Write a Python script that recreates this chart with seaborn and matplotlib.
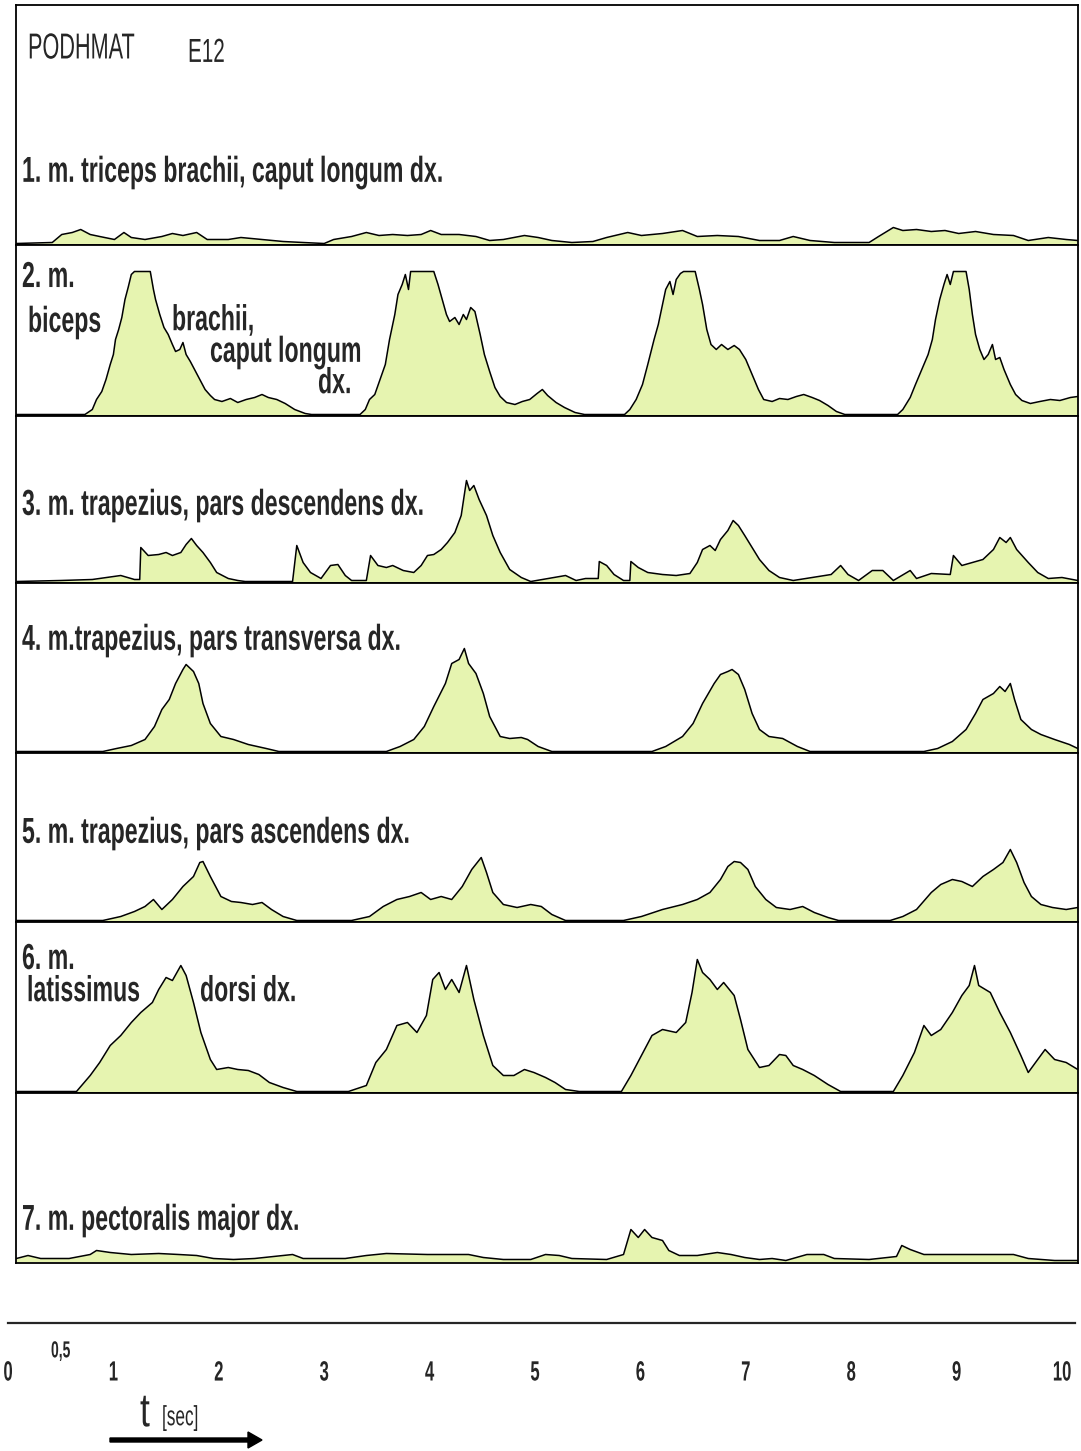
import numpy as np
import seaborn as sns
import matplotlib.pyplot as plt
from matplotlib import patheffects
from matplotlib.patches import FancyArrow
from matplotlib.transforms import Affine2D

sns.set_style("white")
plt.rcParams['font.family'] = ['Liberation Sans', 'DejaVu Sans']

# ---- data: time [s] and EMG envelope amplitude (arbitrary units, ~px of panel) ----
t1 = [0.08, 0.42, 0.51, 0.61, 0.69, 0.78, 0.87, 1.01, 1.10, 1.17, 1.30, 1.46, 1.56, 1.66, 1.79, 1.89,
      2.09, 2.21, 2.41, 2.61, 2.80, 3.00, 3.09, 3.26, 3.40, 3.52, 3.65, 3.79, 3.92, 4.01, 4.11, 4.28,
      4.44, 4.57, 4.70, 4.90, 5.03, 5.16, 5.35, 5.55, 5.68, 5.88, 6.01, 6.21, 6.40, 6.54, 6.73, 6.93,
      7.13, 7.32, 7.45, 7.61, 7.84, 8.17, 8.26, 8.40, 8.49, 8.62, 8.76, 8.89, 9.02, 9.18, 9.35, 9.54,
      9.68, 9.87, 10.04, 10.15]
a1 = [0, 1, 9, 11, 14, 9, 7, 4, 11, 6, 4, 7, 10, 8, 11, 4,
      4, 6, 4, 2, 1, 0, 4, 7, 11, 8, 9, 8, 9, 13, 9, 9,
      7, 3, 4, 8, 6, 3, 1, 2, 6, 11, 8, 10, 13, 7, 8, 7,
      3, 3, 7, 3, 1, 1, 7, 16, 13, 14, 12, 13, 10, 12, 9, 8,
      3, 6, 4, 3]

t2 = [0.08, 0.73, 0.80, 0.84, 0.89, 0.93, 0.97, 1.00, 1.02, 1.05, 1.08, 1.11, 1.14, 1.17, 1.20, 1.35,
      1.38, 1.40, 1.44, 1.48, 1.52, 1.56, 1.59, 1.63, 1.66, 1.69, 1.73, 1.77, 1.82, 1.87, 1.92, 1.96,
      2.03, 2.11, 2.18, 2.26, 2.34, 2.41, 2.47, 2.55, 2.63, 2.72, 2.82, 2.88, 3.34,
      3.39, 3.43, 3.48, 3.53, 3.58, 3.62, 3.67, 3.70, 3.74, 3.77, 3.80, 3.82, 4.04, 4.08, 4.12, 4.16,
      4.19, 4.24, 4.28, 4.32, 4.35, 4.39, 4.43, 4.48, 4.52, 4.57, 4.62, 4.67, 4.73, 4.81, 4.88, 4.95,
      5.02, 5.07, 5.12, 5.20, 5.28, 5.38, 5.47, 5.85,
      5.90, 5.96, 6.02, 6.07, 6.13, 6.17, 6.21, 6.24, 6.28, 6.31, 6.34, 6.38, 6.41, 6.52, 6.56, 6.59,
      6.63, 6.67, 6.72, 6.77, 6.83, 6.89, 6.94, 7.00, 7.06, 7.12, 7.17, 7.25, 7.32, 7.40, 7.48, 7.55,
      7.63, 7.70, 7.78, 7.86, 7.94, 8.44,
      8.49, 8.56, 8.61, 8.67, 8.73, 8.77, 8.80, 8.84, 8.88, 8.91, 8.94, 8.97, 9.09, 9.12, 9.15, 9.18,
      9.22, 9.26, 9.30, 9.34, 9.37, 9.41, 9.45, 9.51, 9.56, 9.62, 9.70, 9.79, 9.89, 9.98, 10.08, 10.15]
a2 = [0, 0, 5, 15, 23, 35, 50, 60, 75, 85, 97, 115, 127, 140, 143, 143,
      125, 115, 100, 87, 80, 70, 63, 65, 72, 60, 53, 45, 35, 25, 19, 15,
      13, 16, 12, 15, 17, 20, 17, 15, 11, 5, 1, 0, 0,
      5, 15, 20, 35, 50, 75, 100, 120, 130, 140, 125, 143, 143, 130, 115, 100,
      93, 97, 90, 100, 95, 107, 103, 80, 60, 43, 27, 18, 12, 10, 13, 15,
      21, 25, 19, 12, 7, 2, 0, 0,
      5, 15, 30, 50, 75, 90, 110, 125, 133, 120, 135, 141, 143, 143, 125, 110,
      85, 70, 65, 70, 65, 69, 65, 55, 40, 25, 15, 13, 16, 15, 18, 20,
      17, 14, 9, 3, 0, 0,
      5, 17, 30, 45, 60, 75, 95, 115, 130, 140, 130, 143, 143, 125, 100, 80,
      65, 55, 60, 70, 55, 57, 45, 30, 20, 14, 11, 13, 15, 14, 17, 18]

t3 = [0.08, 0.50, 0.80, 1.07, 1.20, 1.25, 1.26, 1.33, 1.43, 1.50, 1.56, 1.64, 1.69, 1.74, 1.79, 1.85,
      1.92, 1.98, 2.09, 2.18, 2.25, 2.70, 2.74, 2.80, 2.87, 2.97, 3.06, 3.13, 3.20, 3.26, 3.40, 3.44,
      3.51, 3.59, 3.65, 3.75, 3.85, 3.92, 3.98, 4.04, 4.11, 4.17, 4.24, 4.30, 4.35, 4.38, 4.42, 4.47,
      4.54, 4.60, 4.67, 4.76, 4.87, 4.96, 5.29, 5.39, 5.48, 5.60, 5.61, 5.68, 5.75, 5.84, 5.90, 5.91,
      5.98, 6.07, 6.21, 6.34, 6.47, 6.54, 6.59, 6.66, 6.71, 6.76, 6.83, 6.88, 6.93, 6.99, 7.06, 7.13,
      7.22, 7.32, 7.45, 7.81, 7.90, 7.97, 8.07, 8.20, 8.30, 8.40, 8.56, 8.62, 8.76, 8.94, 8.97, 9.05,
      9.15, 9.25, 9.35, 9.41, 9.47, 9.51, 9.57, 9.68, 9.77, 9.87, 10.00, 10.15]
a3 = [0, 1, 2, 6, 2, 2, 34, 26, 27, 29, 26, 29, 37, 43, 36, 29,
      19, 9, 3, 1, 0, 0, 36, 19, 9, 3, 16, 17, 6, 1, 1, 26,
      16, 14, 16, 11, 9, 16, 26, 27, 32, 39, 49, 66, 101, 91, 96, 82,
      66, 46, 29, 12, 4, 0, 6, 1, 3, 3, 20, 16, 7, 1, 1, 20,
      14, 9, 7, 6, 8, 19, 32, 36, 31, 42, 51, 61, 56, 46, 34, 22,
      11, 4, 1, 7, 16, 7, 1, 11, 11, 1, 11, 3, 8, 7, 26, 16,
      19, 22, 32, 44, 39, 44, 32, 19, 9, 3, 4, 1]

t4 = [0.08, 0.90, 1.03, 1.17, 1.30, 1.39, 1.46, 1.53, 1.59, 1.66, 1.69, 1.73, 1.76, 1.81, 1.85, 1.92,
      2.02, 2.14, 2.28, 2.45, 2.57, 3.59, 3.72, 3.85, 3.95, 4.04, 4.15, 4.21, 4.28, 4.33, 4.37, 4.44,
      4.51, 4.57, 4.67, 4.76, 4.87, 4.93, 5.03, 5.16, 6.11, 6.24, 6.40, 6.50, 6.59, 6.70, 6.76, 6.83,
      6.87, 6.93, 6.99, 7.06, 7.13, 7.22, 7.35, 7.49, 7.61, 8.69, 8.82, 8.96, 9.09, 9.18, 9.25, 9.35,
      9.41, 9.46, 9.51, 9.55, 9.61, 9.71, 9.80, 9.93, 10.07, 10.15]
a4 = [0, 0, 3, 6, 12, 25, 42, 52, 68, 82, 87, 83, 80, 68, 48, 28,
      15, 12, 7, 3, 0, 0, 5, 12, 25, 45, 68, 88, 92, 103, 88, 78,
      58, 35, 15, 13, 14, 12, 5, 0, 0, 5, 15, 28, 48, 68, 77, 80,
      82, 77, 62, 38, 22, 15, 13, 5, 0, 0, 3, 10, 22, 38, 52, 58,
      65, 60, 68, 52, 32, 22, 17, 12, 7, 3]

t5 = [0.08, 0.90, 1.07, 1.20, 1.30, 1.38, 1.46, 1.56, 1.66, 1.76, 1.82, 1.85, 1.92, 2.02, 2.12, 2.21,
      2.32, 2.41, 2.50, 2.61, 2.74, 3.26, 3.43, 3.56, 3.69, 3.81, 3.92, 4.01, 4.11, 4.21, 4.31, 4.40,
      4.49, 4.54, 4.60, 4.70, 4.83, 4.96, 5.06, 5.16, 5.29, 5.84, 6.01, 6.21, 6.40, 6.54, 6.66, 6.76,
      6.83, 6.89, 6.95, 7.02, 7.09, 7.19, 7.29, 7.42, 7.54, 7.65, 7.78, 7.88, 8.37, 8.49, 8.62, 8.76,
      8.85, 8.96, 9.05, 9.15, 9.25, 9.35, 9.44, 9.51, 9.57, 9.64, 9.71, 9.80, 9.91, 10.04, 10.15]
a5 = [0, 0, 4, 9, 14, 21, 11, 21, 34, 44, 58, 59, 44, 24, 19, 18,
      16, 18, 11, 4, 0, 0, 4, 14, 21, 24, 28, 21, 24, 21, 34, 51,
      63, 48, 28, 16, 13, 16, 14, 6, 0, 0, 4, 11, 16, 21, 28, 41,
      54, 59, 58, 51, 34, 21, 13, 11, 14, 8, 3, 0, 0, 4, 11, 28,
      36, 41, 39, 34, 44, 51, 58, 71, 58, 38, 24, 16, 13, 11, 13]

t6 = [0.08, 0.65, 0.78, 0.87, 0.97, 1.07, 1.17, 1.26, 1.37, 1.43, 1.50, 1.56, 1.64, 1.69, 1.76, 1.83,
      1.92, 1.98, 2.09, 2.18, 2.28, 2.38, 2.48, 2.61, 2.74, 3.23, 3.40, 3.49, 3.59, 3.69, 3.79, 3.88,
      3.97, 4.03, 4.09, 4.15, 4.21, 4.28, 4.35, 4.42, 4.51, 4.60, 4.70, 4.80, 4.90, 4.99, 5.10, 5.19,
      5.29, 5.42, 5.82, 5.91, 6.01, 6.11, 6.21, 6.34, 6.43, 6.49, 6.54, 6.59, 6.66, 6.73, 6.79, 6.89,
      6.95, 7.02, 7.13, 7.22, 7.32, 7.38, 7.45, 7.54, 7.65, 7.78, 7.90, 8.40, 8.49, 8.60, 8.69, 8.76,
      8.85, 8.96, 9.05, 9.12, 9.17, 9.21, 9.32, 9.41, 9.51, 9.61, 9.68, 9.77, 9.84, 9.93, 10.04, 10.15]
a6 = [0, 0, 16, 29, 46, 56, 69, 79, 89, 102, 114, 111, 126, 116, 89, 59,
      32, 22, 24, 22, 21, 17, 9, 4, 0, 0, 6, 29, 42, 66, 69, 59,
      76, 112, 119, 102, 112, 99, 126, 92, 56, 26, 16, 16, 22, 19, 14, 9,
      2, 0, 0, 16, 36, 56, 62, 59, 69, 99, 132, 119, 112, 102, 109, 96,
      72, 42, 24, 26, 37, 36, 26, 22, 16, 7, 0, 0, 16, 39, 66, 56,
      62, 79, 96, 106, 126, 106, 99, 79, 59, 36, 19, 32, 42, 32, 29, 22]

t7 = [0.08, 0.19, 0.31, 0.58, 0.78, 0.84, 0.97, 1.17, 1.43, 1.62, 1.79, 1.95, 2.14, 2.34, 2.61, 2.70,
      2.80, 3.20, 3.40, 3.59, 3.98, 4.37, 4.51, 4.70, 4.96, 5.10, 5.23, 5.35, 5.68, 5.84, 5.91, 5.98,
      6.04, 6.11, 6.21, 6.27, 6.37, 6.54, 6.73, 6.86, 6.99, 7.13, 7.25, 7.38, 7.58, 7.74, 7.84, 8.17,
      8.43, 8.48, 8.56, 8.69, 8.96, 9.21, 9.54, 9.68, 9.93, 10.15]
a7 = [3, 6, 3, 3, 7, 11, 9, 7, 8, 7, 6, 3, 2, 3, 6, 7,
      3, 3, 6, 8, 7, 7, 4, 2, 2, 7, 6, 3, 2, 7, 32, 24,
      32, 24, 21, 11, 6, 6, 9, 7, 4, 2, 3, 1, 7, 7, 3, 2,
      5, 16, 12, 7, 7, 7, 7, 3, 1, 1]

times = [t1, t2, t3, t4, t5, t6, t7]
amps = [a1, a2, a3, a4, a5, a6, a7]

header_left = "PODHMAT"
header_right = "E12"
time_ticks = list(range(0, 11))
time_labels = [str(v) for v in time_ticks]
half_ticks = [v + 0.5 for v in range(0, 10)]
half_labels = ["0,5"] + [""] * 9


class Tall(patheffects.AbstractPathEffect):
    """stretch text vertically about its centre (the original uses a condensed typeface)"""

    def __init__(self, sy=1.5):
        super().__init__()
        self.sy = sy

    def draw_path(self, renderer, gc, tpath, affine, rgbFace=None):
        bb = tpath.get_extents(affine)
        y0 = bb.y0 + bb.height / 2
        tr = affine + Affine2D().translate(0, -y0).scale(1, self.sy).translate(0, y0)
        renderer.draw_path(gc, tpath, tr, rgbFace)


# ---- layout (pixels) ----
W, H = 1081, 1451
FILL = "#e6f4b0"
fig = plt.figure(figsize=(W / 100, H / 100), dpi=100)


def px_axes(x0, y0, x1, y1):
    return fig.add_axes([x0 / W, 1 - y1 / H, (x1 - x0) / W, (y1 - y0) / H])


def ftext(x, y, s, size=26, weight="bold", sx=0.64):
    # size = apparent height, sx = horizontal condensation
    fig.text(x / W, 1 - y / H, s, fontsize=size * sx, fontweight=weight, ha="left",
             va="center", path_effects=[Tall(1 / sx)])


edges = [5, 245, 416, 583, 753, 922, 1093, 1263]
for i in range(7):
    top, bot = edges[i], edges[i + 1]
    ax = px_axes(16, top, 1078, bot)
    h = bot - top
    ax.fill_between(times[i], amps[i], 0, color=FILL, lw=0)
    sns.lineplot(x=times[i], y=amps[i], ax=ax, color="black", lw=1.1,
                 estimator=None, sort=False)
    ax.set_xlim(0.076, 10.152)
    ax.set_ylim(-1.5, h - 1.5)
    ax.set_xticks([])
    ax.set_yticks([])
    ax.set_xlabel("")
    ax.set_ylabel("")
    for sp in ax.spines.values():
        sp.set_linewidth(1.3)
        sp.set_color("black")

# labels
ftext(28, 48, header_left, size=26, weight="normal", sx=0.6)
ftext(188, 52, header_right, size=24, weight="normal", sx=0.62)
ftext(22, 172, "1. m. triceps brachii, caput longum dx.")
ftext(22, 276, "2. m.")
ftext(28, 322, "biceps")
ftext(172, 320, "brachii,")
ftext(210, 352, "caput longum")
ftext(318, 382, "dx.")
ftext(22, 505, "3. m. trapezius, pars descendens dx.")
ftext(22, 640, "4. m.trapezius, pars transversa dx.")
ftext(22, 833, "5. m. trapezius, pars ascendens dx.")
ftext(22, 958, "6. m.")
ftext(27, 990, "latissimus")
ftext(200, 990, "dorsi dx.")
ftext(22, 1220, "7. m. pectoralis major dx.")

# time axis
axt = px_axes(8, 1290, 1075, 1323)
axt.set_xlim(0, (1075 - 8) / 105.4)
axt.set_ylim(0, 1)
for s in ["top", "left", "right"]:
    axt.spines[s].set_visible(False)
axt.spines["bottom"].set_linewidth(1.6)
axt.set_yticks([])
axt.set_xticks(time_ticks, labels=time_labels)
axt.set_xticks(half_ticks, labels=half_labels, minor=True)
axt.tick_params(axis="x", which="major", direction="out", length=13, width=1.2,
                pad=17, labelsize=12)
axt.tick_params(axis="x", which="minor", direction="out", length=6, width=1.0,
                pad=9, labelsize=10)
for lab in axt.get_xticklabels() + axt.get_xticklabels(minor=True):
    lab.set_fontweight("bold")
    lab.set_path_effects([Tall(1.67)])

ftext(140, 1413, "t", size=34, weight="normal", sx=0.75)
ftext(162, 1418, "[sec]", size=20, weight="normal", sx=0.62)
fig.patches.append(FancyArrow(
    110 / W, 1 - 1440 / H, 138 / W, 0, width=4 / H, head_width=16 / H,
    head_length=14 / W, transform=fig.transFigure, color="black",
    length_includes_head=False))

fig.savefig("out.png", dpi=100)
